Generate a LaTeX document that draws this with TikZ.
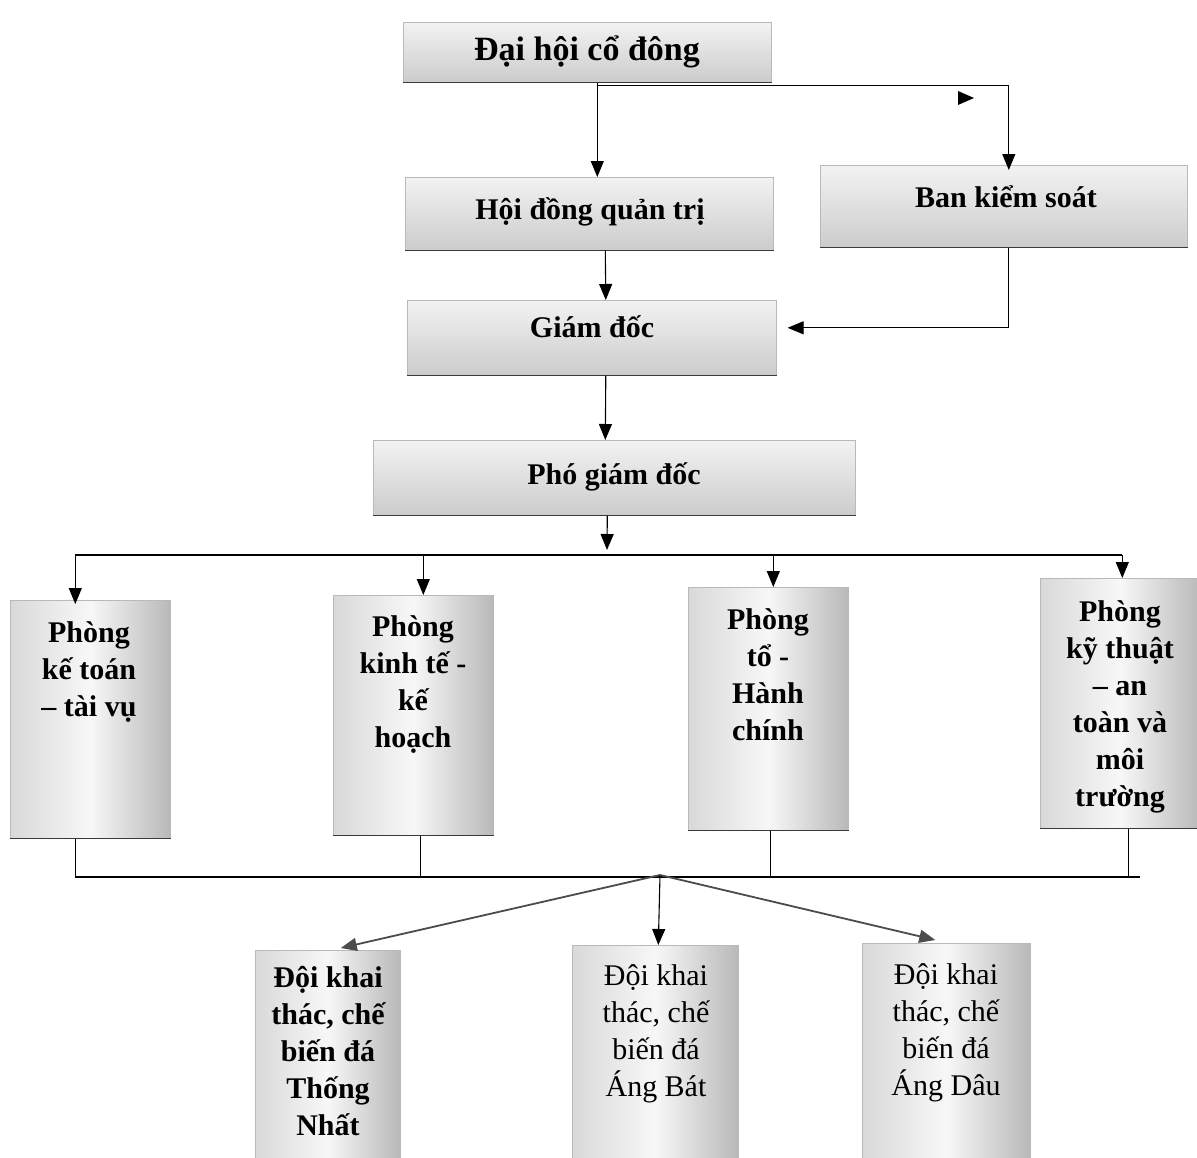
\documentclass[tikz,border=0pt]{standalone}
\usepackage{fontspec}
\setmainfont{Liberation Serif}
\usetikzlibrary{arrows.meta}
\begin{document}
\begin{tikzpicture}[x=1pt,y=-1pt,
  sz/.style 2 args={minimum width=#1, minimum height=#2},
  hbox/.style={draw=gray!55, line width=0.6pt, top color=gray!10, bottom color=gray!40, inner sep=0pt, anchor=north west},
  vbox/.style={draw=gray!55, line width=0.6pt, left color=gray!30, right color=gray!55, middle color=gray!6, inner sep=0pt, anchor=north west},
  btxt/.style={font=\bfseries\fontsize{30}{37}\selectfont, align=center, inner sep=0pt},
  rtxt/.style={font=\mdseries\fontsize{30}{37}\selectfont, align=center, inner sep=0pt},
  ln/.style={line width=1.1pt, black},
  arr/.style={line width=1.1pt, black, -{Triangle[length=16pt,width=13pt]}},
  darr/.style={line width=1.8pt, gray!60!black, -{Triangle[length=16pt,width=13pt]}},
  edge/.style={line width=1.6pt, gray!60!black}
]
\useasboundingbox (0,0) rectangle (1197,1157);
\fill[white] (0,0) rectangle (1197,1157);

% boxes
\node[hbox, sz={368}{60}] (dh) at (403,22) {};
\node[hbox, sz={368}{73}] (hd) at (405,177) {};
\node[hbox, sz={367}{82}] (bks) at (820,165) {};
\node[hbox, sz={369}{75}] (gd) at (407,300) {};
\node[hbox, sz={482}{75}] (pgd) at (373,440) {};
\node[vbox, sz={160}{238}] (p1) at (10,600) {};
\node[vbox, sz={160}{240}] (p2) at (333,595) {};
\node[vbox, sz={160}{243}] (p3) at (688,587) {};
\node[vbox, sz={160}{250}] (p4) at (1040,578) {};
\node[vbox, sz={145}{215}] (d1) at (255,950) {};
\node[vbox, sz={166}{220}] (d2) at (572,945) {};
\node[vbox, sz={168}{222}] (d3) at (862,943) {};

% bottom shadow edges
\foreach \b in {dh,hd,bks,gd,pgd,p1,p2,p3,p4}
  \draw[gray!45!black, line width=1.4pt] (\b.south west) -- (\b.south east);

% texts
\node[btxt, font=\bfseries\fontsize{34}{40}\selectfont, anchor=base] (tdh) at (587,60) {Đại hội cổ đông};
\node[btxt, anchor=base] (thd) at (590,219) {Hội đồng quản trị};
\node[btxt, anchor=base] (tbks) at (1006,207) {Ban kiểm soát};
\node[btxt, anchor=base] (tgd) at (592,337) {Giám đốc};
\node[btxt, anchor=base] (tpgd) at (614,484) {Phó giám đốc};
\node[btxt, anchor=north] (tp1) at (89,621) {Phòng\\kế toán\\– tài vụ};
\node[btxt, anchor=north] (tp2) at (413,615) {Phòng\\kinh tế -\\kế\\hoạch};
\node[btxt, anchor=north] (tp3) at (768,608) {Phòng\\tổ -\\Hành\\chính};
\node[btxt, anchor=north] (tp4) at (1120,600) {Phòng\\kỹ thuật\\– an\\toàn và\\môi\\trường};
\node[btxt, anchor=north] (td1) at (328,966) {Đội khai\\thác, chế\\biến đá\\Thống\\Nhất};
\node[rtxt, anchor=north] (td2) at (656,964) {Đội khai\\thác, chế\\biến đá\\Áng Bát};
\node[rtxt, anchor=north] (td3) at (946,963) {Đội khai\\thác, chế\\biến đá\\Áng Dâu};

% top connectors
\draw[arr] ([xshift=10pt]dh.south) -- ([xshift=8pt]hd.north);
\draw[arr] ([xshift=10pt,yshift=-3pt]dh.south) -| ([xshift=5pt,yshift=-5pt]bks.north);
\coordinate (stray) at (965,98);
\fill[black] ([xshift=-7pt,yshift=7pt]stray) -- ([xshift=9pt]stray) -- ([xshift=-7pt,yshift=-7pt]stray) -- cycle;
\draw[arr] ([xshift=16pt]hd.south) -- ([xshift=14pt]gd.north);
\draw[arr] ([xshift=5pt]bks.south) |- ([xshift=11pt,yshift=10pt]gd.east);
\draw[arr] ([xshift=14pt]gd.south) -- ([xshift=-9pt]pgd.north);

% upper bus
\coordinate (tb) at (0,555);
\coordinate (pgdend) at (607,550);
\draw[arr] ([xshift=-7pt]pgd.south) -- (pgdend);
\draw[ln] ([xshift=-15pt]p1.north |- tb) -- ([xshift=2pt]p4.north |- tb);
\draw[arr] ([xshift=-15pt]p1.north |- tb) -- ([xshift=-15pt,yshift=-4pt]p1.north);
\draw[arr] ([xshift=10pt]p2.north |- tb) -- ([xshift=10pt]p2.north);
\draw[arr] ([xshift=5pt]p3.north |- tb) -- ([xshift=5pt]p3.north);
\draw[arr] ([xshift=2pt]p4.north |- tb) -- ([xshift=2pt]p4.north);

% lower bus
\coordinate (lb) at (0,877);
\coordinate (lbend) at (1140,877);
\coordinate (hub) at (660,875);
\draw[ln] ([xshift=-15pt]p1.south |- lb) -- (lbend);
\draw[ln] ([xshift=-15pt]p1.south) -- ([xshift=-15pt]p1.south |- lb);
\draw[ln] ([xshift=7pt]p2.south) -- ([xshift=7pt]p2.south |- lb);
\draw[ln] ([xshift=2pt]p3.south) -- ([xshift=2pt]p3.south |- lb);
\draw[ln] ([xshift=8pt]p4.south) -- ([xshift=8pt]p4.south |- lb);
\draw[darr] (hub) -- ([xshift=13pt,yshift=2pt]d1.north);
\draw[arr] (hub) -- ([xshift=3pt]d2.north);
\draw[darr] (hub) -- ([xshift=-11pt,yshift=3pt]d3.north);
\end{tikzpicture}
\end{document}
